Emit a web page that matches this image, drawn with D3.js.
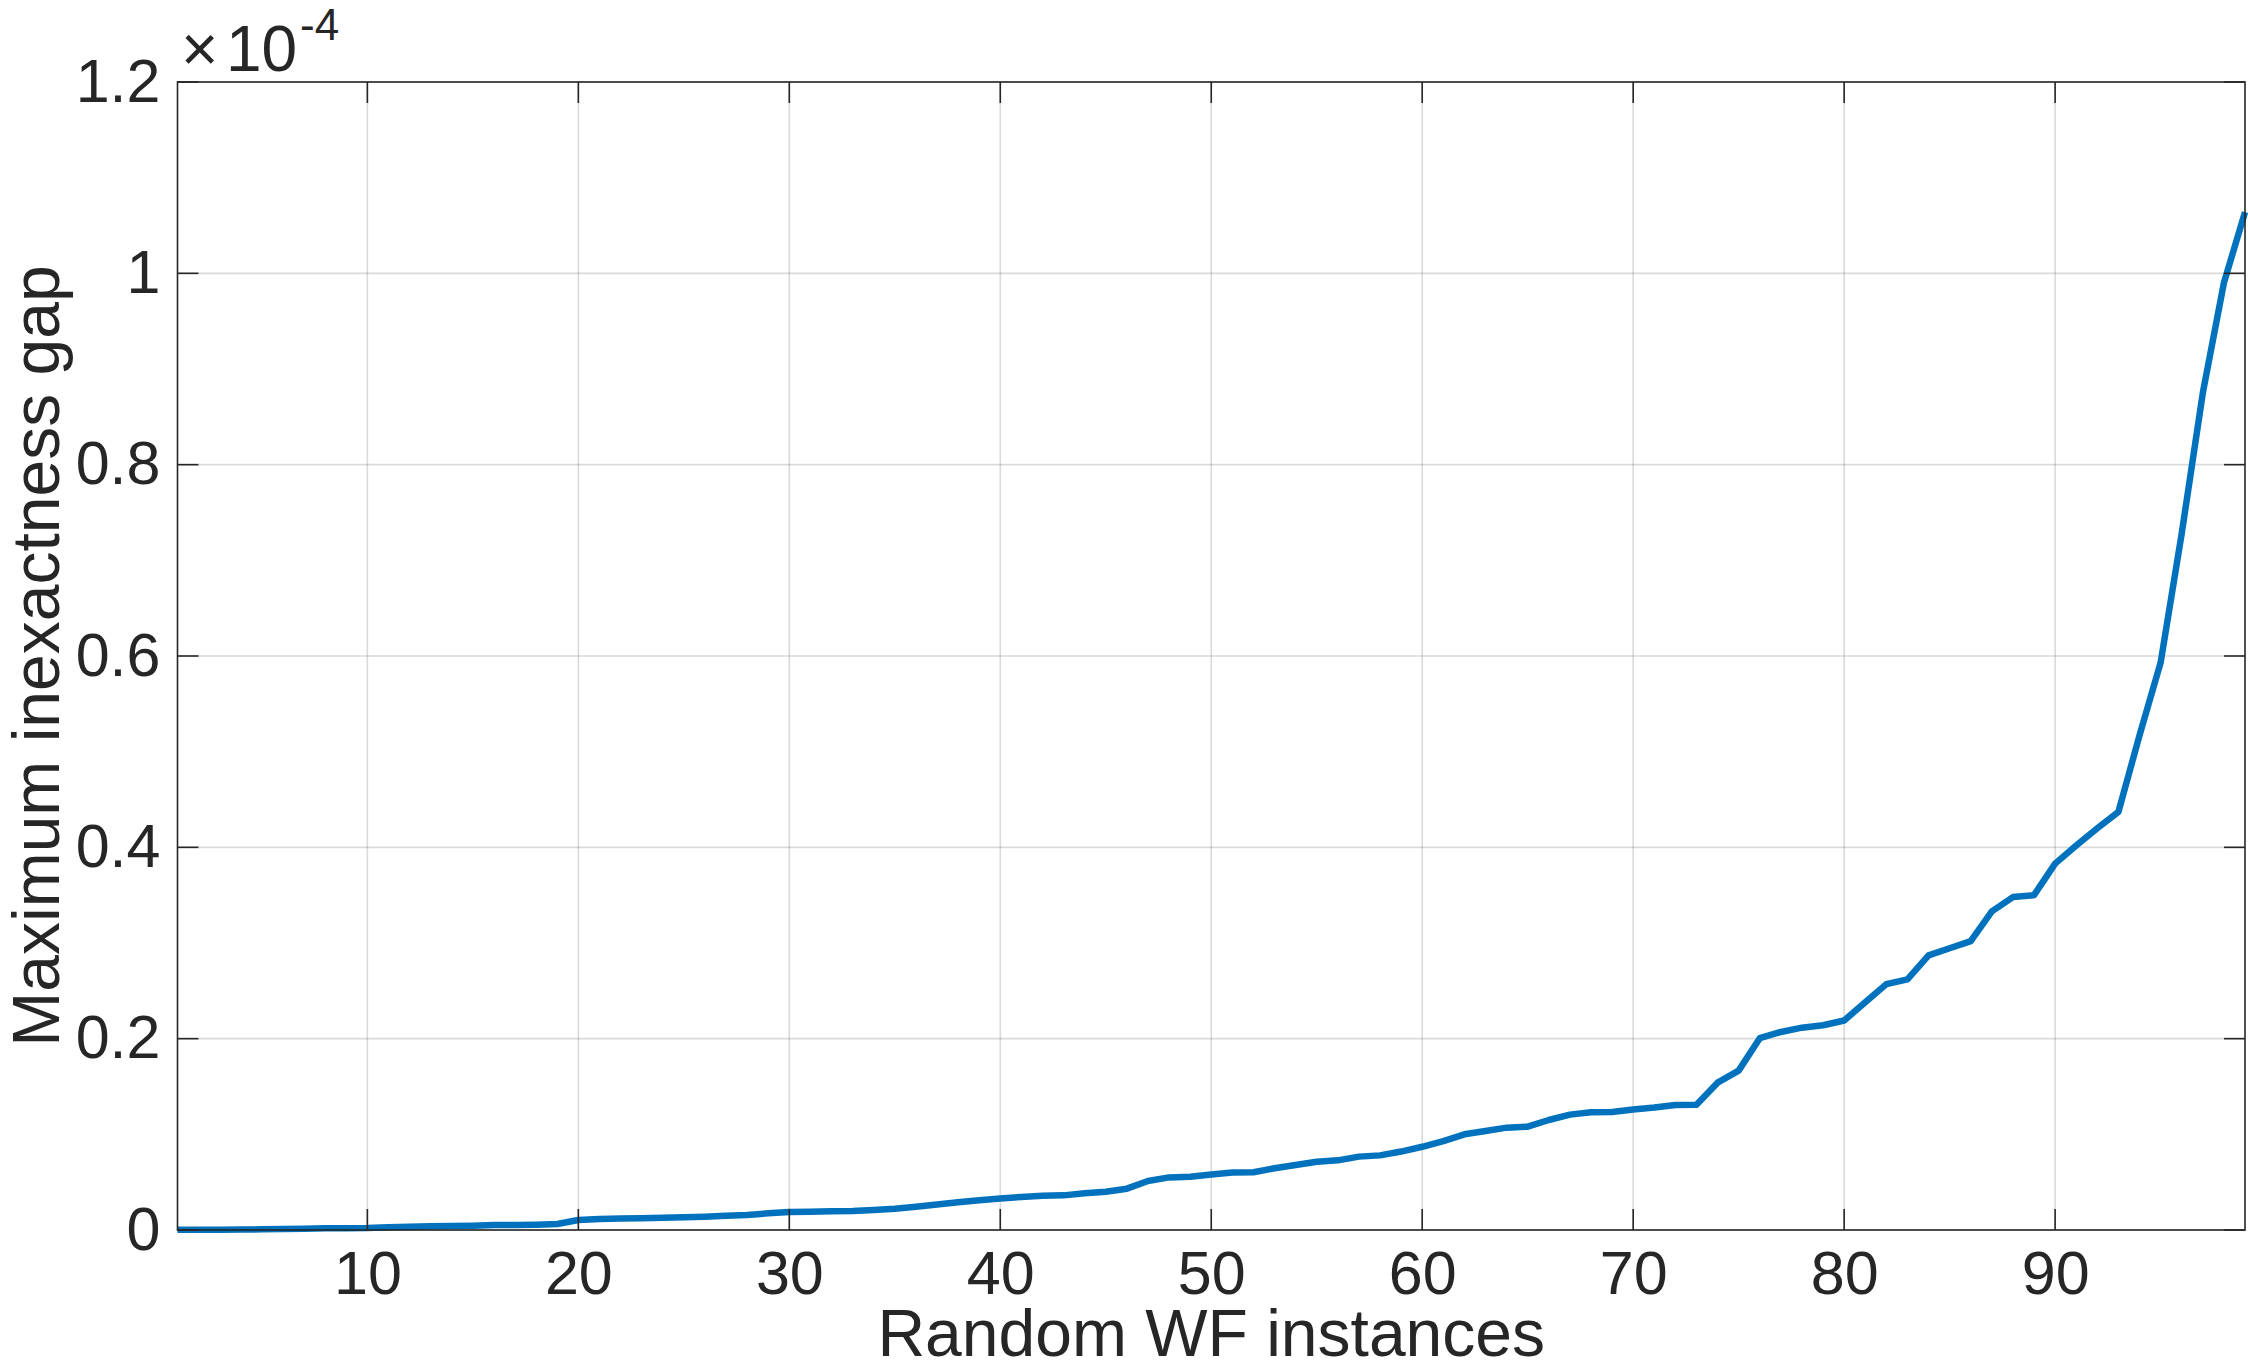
<!DOCTYPE html>
<html>
<head>
<meta charset="utf-8">
<script src="https://cdn.jsdelivr.net/npm/d3@7"></script>
<style>
  html, body { margin: 0; padding: 0; background: #ffffff; }
  svg { display: block; }
  text { font-family: "Liberation Sans", Arial, Helvetica, sans-serif; fill: #262626; }
</style>
</head>
<body>
<svg id="chart" width="2248" height="1369"></svg>
<script>
// ---- data ----
const xLabel = "Random WF instances";
const yLabel = "Maximum inexactness gap";
const yExponent = "-4";
const xTicks = [10, 20, 30, 40, 50, 60, 70, 80, 90];
const yTicks = [0, 0.2, 0.4, 0.6, 0.8, 1, 1.2];
const yTickLabels = ["0", "0.2", "0.4", "0.6", "0.8", "1", "1.2"];
// maximum inexactness gap per instance (in units of 1e-4), instances 1..99
const gap = [
  0.0003, 0.0003, 0.0003, 0.0004, 0.0007, 0.0010, 0.0014, 0.0017, 0.0018, 0.0020,
  0.0028, 0.0035, 0.0038, 0.0042, 0.0045, 0.0052, 0.0052, 0.0056, 0.0063, 0.0105,
  0.0115, 0.0120, 0.0124, 0.0128, 0.0132, 0.0139, 0.0150, 0.0157, 0.0174, 0.0188,
  0.0192, 0.0195, 0.0199, 0.0209, 0.0223, 0.0244, 0.0266, 0.0290, 0.0310, 0.0330,
  0.0345, 0.0357, 0.0362, 0.0383, 0.0400, 0.0432, 0.0512, 0.0550, 0.0557, 0.0580,
  0.0600, 0.0603, 0.0645, 0.0680, 0.0714, 0.0728, 0.0767, 0.0780, 0.0820, 0.0870,
  0.0930, 0.1000, 0.1035, 0.1070, 0.1080, 0.1150, 0.1206, 0.1230, 0.1233, 0.1260,
  0.1280, 0.1307, 0.1310, 0.1540, 0.1666, 0.2005, 0.2070, 0.2115, 0.2140, 0.2190,
  0.2380, 0.2570, 0.2620, 0.2870, 0.2945, 0.3020, 0.3330, 0.3480, 0.3500, 0.3830,
  0.4020, 0.4200, 0.4370, 0.5170, 0.5930, 0.7280, 0.8750, 0.9900, 1.0640
];

// ---- layout ----
const W = 2248, H = 1369;
const L = 177.5, R = 2245, T = 82, B = 1230;
const axisColor = "#262626";
const tickFont = 61, labelFont = 66;
const tickLen = 21;

const svg = d3.select("#chart");
svg.append("rect").attr("width", W).attr("height", H).attr("fill", "#ffffff");

const x = d3.scaleLinear().domain([1, gap.length]).range([L, R]);
const y = d3.scaleLinear().domain([0, 1.2]).range([B, T]);

// grid
const grid = svg.append("g");
grid.selectAll("line.vg").data(xTicks).join("line")
  .attr("x1", d => x(d)).attr("x2", d => x(d))
  .attr("y1", T).attr("y2", B)
  .attr("stroke", "#262626").attr("stroke-opacity", 0.17).attr("stroke-width", 1.6);
grid.selectAll("line.hg").data(yTicks).join("line")
  .attr("x1", L).attr("x2", R)
  .attr("y1", d => y(d)).attr("y2", d => y(d))
  .attr("stroke", "#262626").attr("stroke-opacity", 0.17).attr("stroke-width", 1.6);

// data line
const line = d3.line().x((d, i) => x(i + 1)).y(d => y(d));
svg.append("path").datum(gap)
  .attr("d", line)
  .attr("fill", "none")
  .attr("stroke", "#0072BD")
  .attr("stroke-width", 6.5)
  .attr("stroke-linejoin", "round");

// axes (bottom & left, labels only; ticks drawn inward below)
const xAxis = d3.axisBottom(x).tickValues(xTicks).tickSize(0).tickPadding(0).tickFormat(d3.format("d"));
const gx = svg.append("g").attr("transform", `translate(0,${B})`).call(xAxis);
gx.select(".domain").remove();
gx.selectAll("text")
  .attr("font-size", tickFont)
  .attr("y", 64).attr("dy", 0)
  .attr("fill", axisColor)
  .style("font-family", "'Liberation Sans', Arial, sans-serif");

const yAxis = d3.axisLeft(y).tickValues(yTicks).tickSize(0).tickPadding(0)
  .tickFormat((d, i) => yTickLabels[i]);
const gy = svg.append("g").attr("transform", `translate(${L},0)`).call(yAxis);
gy.select(".domain").remove();
gy.selectAll("text")
  .attr("font-size", tickFont)
  .attr("x", -17).attr("dy", 0).attr("y", 19)
  .attr("fill", axisColor)
  .style("font-family", "'Liberation Sans', Arial, sans-serif");

// inward ticks on all four sides
const ticks = svg.append("g").attr("stroke", axisColor).attr("stroke-width", 1.6);
ticks.selectAll("line.bt").data(xTicks).join("line")
  .attr("x1", d => x(d)).attr("x2", d => x(d)).attr("y1", B).attr("y2", B - tickLen);
ticks.selectAll("line.tt").data(xTicks).join("line")
  .attr("x1", d => x(d)).attr("x2", d => x(d)).attr("y1", T).attr("y2", T + tickLen);
ticks.selectAll("line.lt").data(yTicks).join("line")
  .attr("x1", L).attr("x2", L + tickLen).attr("y1", d => y(d)).attr("y2", d => y(d));
ticks.selectAll("line.rt").data(yTicks).join("line")
  .attr("x1", R).attr("x2", R - tickLen).attr("y1", d => y(d)).attr("y2", d => y(d));

// box
svg.append("rect")
  .attr("x", L).attr("y", T).attr("width", R - L).attr("height", B - T)
  .attr("fill", "none").attr("stroke", axisColor).attr("stroke-width", 1.6);

// exponent label
const ex = svg.append("text").attr("x", 181).attr("y", 71).attr("font-size", 64);
ex.append("tspan").text("\u00D7");
ex.append("tspan").attr("x", 226).text("10");
ex.append("tspan").attr("x", 300).attr("y", 40).attr("font-size", 44).text(yExponent);

// axis labels
svg.append("text")
  .attr("x", (L + R) / 2).attr("y", 1356)
  .attr("text-anchor", "middle")
  .attr("font-size", labelFont)
  .text(xLabel);

svg.append("text")
  .attr("transform", `translate(59,${(T + B) / 2}) rotate(-90)`)
  .attr("text-anchor", "middle")
  .attr("font-size", labelFont)
  .text(yLabel);
</script>
</body>
</html>
